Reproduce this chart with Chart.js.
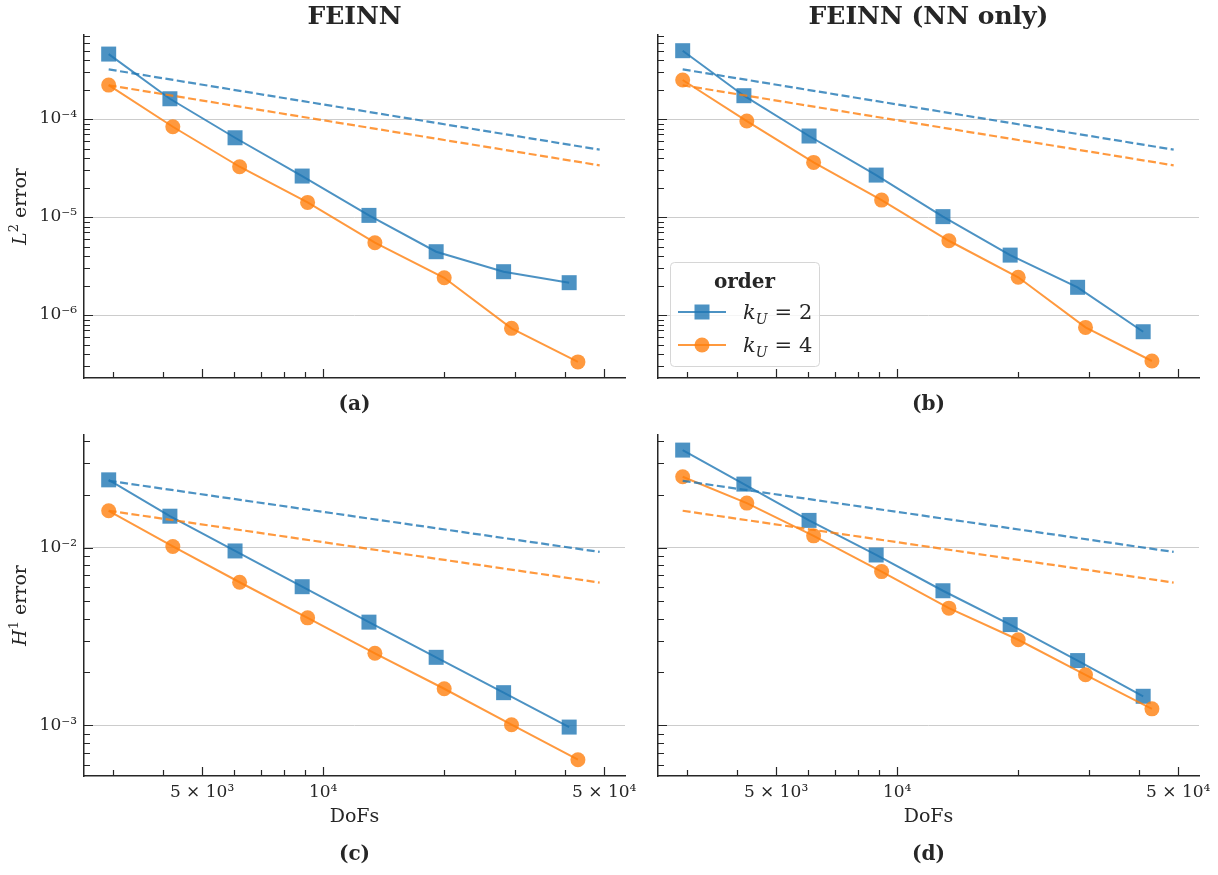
<!DOCTYPE html>
<html>
<head>
<meta charset="utf-8">
<title>FEINN convergence</title>
<script src="https://cdn.jsdelivr.net/npm/chart.js@4.4.1/dist/chart.umd.min.js"></script>
<style>
  body { margin: 0; background: #fff; }
  #figure { position: relative; width: 1218px; height: 875px; }
  #figure canvas { position: absolute; }
</style>
</head>
<body>
<div id="figure">
  <canvas id="panelA" width="640" height="430" style="left:0;top:0"></canvas>
  <canvas id="panelB" width="640" height="430" style="left:574px;top:0"></canvas>
  <canvas id="panelC" width="640" height="475" style="left:0;top:400px"></canvas>
  <canvas id="panelD" width="640" height="475" style="left:574px;top:400px"></canvas>
</div>
<script>
// --- data ---
const dofsK2 = [2930, 4160, 6040, 8870, 13000, 19100, 28100, 40900];
const dofsK4 = [2930, 4230, 6200, 9150, 13450, 20000, 29400, 43000];
const refDofs = [2930, 48700];

const feinnL2K2 = [4.60e-4, 1.61e-4, 6.44e-5, 2.62e-5, 1.04e-5, 4.43e-6, 2.77e-6, 2.14e-6];
const feinnL2K4 = [2.22e-4, 8.34e-5, 3.26e-5, 1.41e-5, 5.47e-6, 2.40e-6, 7.32e-7, 3.33e-7];
const nnL2K2 = [4.98e-4, 1.73e-4, 6.71e-5, 2.68e-5, 1.01e-5, 4.09e-6, 1.92e-6, 6.76e-7];
const nnL2K4 = [2.50e-4, 9.54e-5, 3.61e-5, 1.49e-5, 5.73e-6, 2.43e-6, 7.48e-7, 3.40e-7];

const feinnH1K2 = [2.42e-2, 1.51e-2, 9.62e-3, 6.05e-3, 3.82e-3, 2.42e-3, 1.53e-3, 9.79e-4];
const feinnH1K4 = [1.62e-2, 1.02e-2, 6.41e-3, 4.04e-3, 2.55e-3, 1.61e-3, 1.01e-3, 6.41e-4];
const nnH1K2 = [3.56e-2, 2.29e-2, 1.43e-2, 9.13e-3, 5.74e-3, 3.70e-3, 2.32e-3, 1.46e-3];
const nnH1K4 = [2.52e-2, 1.79e-2, 1.17e-2, 7.36e-3, 4.58e-3, 3.04e-3, 1.93e-3, 1.24e-3];

// reference slopes (dashed)
const refL2K2 = [3.21e-4, 4.87e-5];
const refL2K4 = [2.21e-4, 3.37e-5];
const refH1K2 = [2.39e-2, 9.50e-3];
const refH1K4 = [1.62e-2, 6.38e-3];

const xTickValues = [5e3, 1e4, 5e4];
const xTickLabels = ['5 × 10³', '10⁴', '5 × 10⁴'];
const panelTitles = ['FEINN', 'FEINN (NN only)'];
const panelCaptions = ['(a)', '(b)', '(c)', '(d)'];
const legendTitle = 'order';
const orders = [2, 4];

// axis ranges
const X_MIN = 2544, X_MAX = 56300;
const L2_MIN = 2.28e-7, L2_MAX = 7.2e-4;
const H1_MIN = 5.19e-4, H1_MAX = 4.33e-2;

const INK = '#262626';
const SERIF = "'DejaVu Serif', 'Liberation Serif', serif";
const BLUE = 'rgba(31, 119, 180, 0.8)';
const ORANGE = 'rgba(255, 127, 14, 0.8)';

const SUP = { '-': '⁻', '0': '⁰', '1': '¹', '2': '²', '3': '³', '4': '⁴', '5': '⁵', '6': '⁶', '7': '⁷', '8': '⁸', '9': '⁹' };
function decadeLabel(v) {
    const e = Math.round(Math.log10(v));
    return '10' + String(e).split('').map(c => SUP[c]).join('');
}

function logSteps(min, max) {
    const out = [];
    for (let d = Math.floor(Math.log10(min)); d <= Math.ceil(Math.log10(max)); d++) {
        for (let m = 1; m <= 9; m++) {
            const v = m * Math.pow(10, d);
            if (v >= min && v <= max) out.push({ v: v, decade: m === 1 });
        }
    }
    return out;
}

// text made of differently styled runs (italic symbols, sub/superscripts)
function measureRich(ctx, parts) {
    let w = 0;
    parts.forEach(p => { ctx.font = p.font; w += (p.before || 0) + ctx.measureText(p.t).width; });
    return w;
}
function drawRich(ctx, parts, x, y) {
    let cx = x;
    parts.forEach(p => {
        ctx.font = p.font;
        cx += p.before || 0;
        ctx.fillText(p.t, cx, y + (p.dy || 0));
        cx += ctx.measureText(p.t).width;
    });
}

// inward tick marks, long at decades / labelled DoFs, short elsewhere
const innerTicks = {
    id: 'innerTicks',
    afterDraw(chart) {
        const { ctx, chartArea: a, scales: { x, y } } = chart;
        ctx.save();
        ctx.strokeStyle = INK;
        ctx.lineWidth = 1.2;
        ctx.beginPath();
        logSteps(y.min, y.max).forEach(t => {
            const py = Math.round(y.getPixelForValue(t.v)) + 0.5;
            ctx.moveTo(a.left, py);
            ctx.lineTo(a.left + (t.decade ? 9 : 6), py);
        });
        logSteps(x.min, x.max).forEach(t => {
            const px = Math.round(x.getPixelForValue(t.v)) + 0.5;
            const labelled = xTickValues.some(v => Math.abs(v - t.v) < 1e-6 * v);
            ctx.moveTo(px, a.bottom);
            ctx.lineTo(px, a.bottom - (labelled ? 9 : 6));
        });
        ctx.stroke();
        ctx.restore();
    }
};

function yTitle(parts) {
    return {
        id: 'yTitle',
        afterDraw(chart) {
            const { ctx, chartArea: a } = chart;
            ctx.save();
            ctx.translate(26, (a.top + a.bottom) / 2);
            ctx.rotate(-Math.PI / 2);
            ctx.fillStyle = INK;
            ctx.textBaseline = 'alphabetic';
            drawRich(ctx, parts, -measureRich(ctx, parts) / 2, 0);
            ctx.restore();
        }
    };
}

const orderLegend = {
    id: 'orderLegend',
    afterDraw(chart) {
        const { ctx, chartArea: a } = chart;
        const w = 149, h = 104;
        const bx = a.left + 12, by = a.bottom - 12 - h;
        ctx.save();
        ctx.beginPath();
        ctx.roundRect(bx + 0.5, by + 0.5, w, h, 4);
        ctx.fillStyle = 'rgba(255, 255, 255, 0.8)';
        ctx.fill();
        ctx.strokeStyle = '#d6d6d6';
        ctx.lineWidth = 1;
        ctx.stroke();

        ctx.fillStyle = INK;
        ctx.textAlign = 'center';
        ctx.textBaseline = 'middle';
        ctx.font = 'bold 20px ' + SERIF;
        ctx.fillText(legendTitle, bx + w / 2, by + 21);

        const entries = chart.data.datasets.filter(d => d.legendOrder).sort((p, q) => p.legendOrder - q.legendOrder);
        entries.forEach((ds, i) => {
            const cy = by + 50 + i * 33;
            ctx.strokeStyle = ds.borderColor;
            ctx.lineWidth = ds.borderWidth;
            ctx.beginPath();
            ctx.moveTo(bx + 8, cy);
            ctx.lineTo(bx + 56, cy);
            ctx.stroke();
            ctx.fillStyle = ds.pointBackgroundColor;
            ctx.beginPath();
            if (ds.pointStyle === 'rect') {
                const s = ds.pointRadius * Math.SQRT1_2;
                ctx.rect(bx + 32 - s, cy - s, 2 * s, 2 * s);
            } else {
                ctx.arc(bx + 32, cy, ds.pointRadius, 0, 2 * Math.PI);
            }
            ctx.fill();
            ctx.fillStyle = INK;
            ctx.textAlign = 'left';
            ctx.textBaseline = 'alphabetic';
            drawRich(ctx, [
                { t: 'k', font: 'italic 21px ' + SERIF },
                { t: 'U', font: 'italic 14px ' + SERIF, dy: 5 },
                { t: '=', font: '21px ' + SERIF, before: 7 },
                { t: String(ds.legendOrder), font: '21px ' + SERIF, before: 7 }
            ], bx + 73, cy + 7);
        });
        ctx.restore();
    }
};

function pts(xs, ys) {
    return ys.map((v, i) => ({ x: xs[i], y: v }));
}

function panelDatasets(k2, k4, refK2, refK4) {
    return [
        { label: 'ref k4', data: pts(refDofs, refK4), borderColor: ORANGE, borderWidth: 2.2, borderDash: [8, 3.5], pointRadius: 0, order: 0 },
        { label: 'ref k2', data: pts(refDofs, refK2), borderColor: BLUE, borderWidth: 2.2, borderDash: [8, 3.5], pointRadius: 0, order: 1 },
        {
            label: 'k_U = 4', legendOrder: orders[1], data: pts(dofsK4, k4),
            borderColor: ORANGE, borderWidth: 2, pointStyle: 'circle', pointRadius: 7.5,
            pointBackgroundColor: ORANGE, pointBorderWidth: 0, order: 2
        },
        {
            label: 'k_U = 2', legendOrder: orders[0], data: pts(dofsK2, k2),
            borderColor: BLUE, borderWidth: 2, pointStyle: 'rect', pointRadius: 10.6,
            pointBackgroundColor: BLUE, pointBorderWidth: 0, order: 3
        }
    ];
}

function panelScales(yMin, yMax, bottomRow, showYLabels) {
    return {
        x: {
            type: 'logarithmic',
            min: X_MIN,
            max: X_MAX,
            afterBuildTicks: s => { s.ticks = xTickValues.map(v => ({ value: v })); },
            afterFit: s => { s.height = bottomRow ? 52 : 4; s.paddingLeft = 0; s.paddingRight = 0; },
            grid: { display: false, drawTicks: false },
            border: { display: true, color: INK, width: 1.5 },
            ticks: {
                display: bottomRow,
                padding: 6,
                color: INK,
                maxRotation: 0,
                autoSkip: false,
                font: { family: SERIF, size: 17 },
                callback: v => xTickLabels[xTickValues.findIndex(t => Math.abs(t - v) < 1e-6 * t)]
            },
            title: { display: bottomRow, text: 'DoFs', color: INK, font: { family: SERIF, size: 19 }, padding: 0 }
        },
        y: {
            type: 'logarithmic',
            min: yMin,
            max: yMax,
            afterBuildTicks: s => { s.ticks = logSteps(yMin, yMax).filter(t => t.decade).map(t => ({ value: t.v })); },
            afterFit: s => { s.width = 84; s.paddingTop = 0; s.paddingBottom = 0; },
            grid: { color: '#cccccc', lineWidth: 1, drawTicks: false },
            border: { display: true, color: INK, width: 1.5 },
            ticks: {
                display: showYLabels,
                padding: 7,
                color: INK,
                font: { family: SERIF, size: 17 },
                callback: v => decadeLabel(v)
            }
        }
    };
}

function makePanel(id, cfg) {
    const topRow = cfg.title !== undefined;
    new Chart(document.getElementById(id).getContext('2d'), {
        type: 'line',
        data: { datasets: cfg.datasets },
        options: {
            responsive: false,
            animation: false,
            events: [],
            layout: { padding: { top: topRow ? 0 : 35, right: 15, left: 0, bottom: 0 } },
            elements: { line: { tension: 0 } },
            scales: panelScales(cfg.yMin, cfg.yMax, !topRow, cfg.yParts !== undefined),
            plugins: {
                legend: { display: false },
                tooltip: { enabled: false },
                title: {
                    display: topRow,
                    text: cfg.title,
                    fullSize: false,
                    color: INK,
                    font: { family: SERIF, size: 25, weight: 'bold' },
                    padding: { top: 2, bottom: 3 }
                },
                subtitle: {
                    display: true,
                    position: 'bottom',
                    text: cfg.caption,
                    fullSize: false,
                    color: INK,
                    font: { family: SERIF, size: 20, weight: 'bold' },
                    padding: topRow ? { top: 11, bottom: 13 } : { top: 15, bottom: 8 }
                }
            }
        },
        plugins: [innerTicks].concat(cfg.yParts ? [yTitle(cfg.yParts)] : [], cfg.legend ? [orderLegend] : [])
    });
}

const L2_TITLE = [
    { t: 'L', font: 'italic 19px ' + SERIF },
    { t: '2', font: '13px ' + SERIF, dy: -8 },
    { t: ' error', font: '19px ' + SERIF }
];
const H1_TITLE = [
    { t: 'H', font: 'italic 19px ' + SERIF },
    { t: '1', font: '13px ' + SERIF, dy: -8 },
    { t: ' error', font: '19px ' + SERIF }
];

makePanel('panelA', {
    title: panelTitles[0], caption: panelCaptions[0], yMin: L2_MIN, yMax: L2_MAX, yParts: L2_TITLE,
    datasets: panelDatasets(feinnL2K2, feinnL2K4, refL2K2, refL2K4)
});
makePanel('panelB', {
    title: panelTitles[1], caption: panelCaptions[1], yMin: L2_MIN, yMax: L2_MAX, legend: true,
    datasets: panelDatasets(nnL2K2, nnL2K4, refL2K2, refL2K4)
});
makePanel('panelC', {
    caption: panelCaptions[2], yMin: H1_MIN, yMax: H1_MAX, yParts: H1_TITLE,
    datasets: panelDatasets(feinnH1K2, feinnH1K4, refH1K2, refH1K4)
});
makePanel('panelD', {
    caption: panelCaptions[3], yMin: H1_MIN, yMax: H1_MAX,
    datasets: panelDatasets(nnH1K2, nnH1K4, refH1K2, refH1K4)
});
</script>
</body>
</html>
